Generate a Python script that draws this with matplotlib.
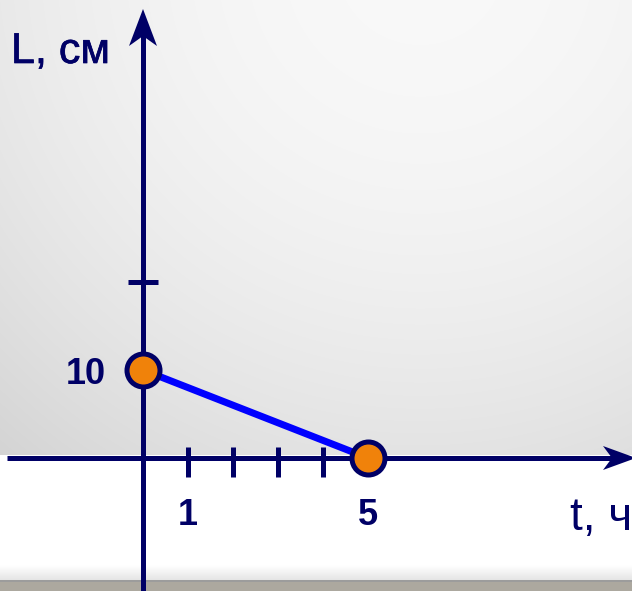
import matplotlib
matplotlib.use("Agg")
import matplotlib.pyplot as plt
import matplotlib.patheffects as pe
from matplotlib.patches import Polygon, Rectangle
import numpy as np

# данные графика
t_points = [0, 5]          # t, ч
L_points = [10, 0]         # L, см
t_minor_ticks = [1, 2, 3, 4]
L_minor_ticks = [20]
t_labels = [1, 5]
L_labels = [10]

NAVY = "#000066"
BLUE = "#0000ff"
ORANGE = "#f0820a"

W, H, DPI = 632, 591, 100
# расположение начала координат и масштаб в пикселях
X0_PX, Y0_PX = 143, 458
PX_PER_T, PX_PER_L = 45.0, 8.8


def px_to_data(px, py):
    return (px - X0_PX) / PX_PER_T, (Y0_PX - py) / PX_PER_L


fig = plt.figure(figsize=(W / DPI, H / DPI), dpi=DPI)
ax = fig.add_axes([0, 0, 1, 1])
x_min, y_max = px_to_data(0, 0)
x_max, y_min = px_to_data(W, H)
ax.set_xlim(x_min, x_max)
ax.set_ylim(y_min, y_max)
ax.axis("off")

# фон: серый градиент над осью t
gy, gx = np.mgrid[0:455, 0:W]
d2 = (gx - 420.0) ** 2 + (gy + 40.0) ** 2
grey = np.clip(0.975 - 3.44e-7 * d2, 0, 1)
top_frac = (H - 455) / H
ax.imshow(np.dstack([grey, grey, grey]), extent=(0, 1, top_frac, 1),
          transform=ax.transAxes, aspect="auto", zorder=0, interpolation="bilinear")
# полоса внизу
fade = np.linspace(1.0, 0.9, 16)[:, None] * np.ones((1, 2))
ax.imshow(np.dstack([fade, fade, fade]), extent=(0, 1, (H - 580) / H, (H - 565) / H),
          transform=ax.transAxes, aspect="auto", zorder=0)
ax.add_patch(Rectangle((0, 0), 1, (H - 580) / H, transform=ax.transAxes,
                       facecolor="#aca89f", edgecolor="none", zorder=0))
ax.add_patch(Rectangle((0, (H - 582) / H), 1, 2 / H, transform=ax.transAxes,
                       facecolor="#9c9c9c", edgecolor="none", zorder=0))

# оси
ax_lw = 5 * 72 / DPI
xa0, _ = px_to_data(7, 0)
xa1, _ = px_to_data(622, 0)
_, ya1 = px_to_data(0, 20)
ax.plot([xa0, xa1], [0, 0], color=NAVY, lw=ax_lw, solid_capstyle="butt", zorder=2)
ax.plot([0, 0], [y_min, ya1], color=NAVY, lw=ax_lw, solid_capstyle="butt", zorder=2)

# стрелки осей (размеры в пикселях)
def arrow_head(tip_px, direction, L=37, N=27, Wd=14):
    tx, ty = tip_px
    if direction == "up":
        pts = [(tx, ty), (tx + Wd, ty + L), (tx, ty + N), (tx - Wd, ty + L)]
    else:
        pts = [(tx, ty), (tx - L, ty + Wd), (tx - N, ty), (tx - L, ty - Wd)]
    return Polygon([px_to_data(*p) for p in pts], closed=True,
                   facecolor=NAVY, edgecolor="none", zorder=3)


ax.add_patch(arrow_head((143, 9), "up"))
ax.add_patch(arrow_head((636, 458), "right", L=33, N=24, Wd=12))

# деления
_, tk_top = px_to_data(0, 447)
_, tk_bot = px_to_data(0, 477)
for t in t_minor_ticks:
    ax.plot([t, t], [tk_bot, tk_top], color=NAVY, lw=ax_lw, solid_capstyle="butt", zorder=2)
tl, _ = px_to_data(128, 0)
tr, _ = px_to_data(158, 0)
for L in L_minor_ticks:
    ax.plot([tl, tr], [L, L], color=NAVY, lw=ax_lw, solid_capstyle="butt", zorder=2)

# график
ax.plot(t_points, L_points, color=BLUE, lw=7 * 72 / DPI, solid_capstyle="butt", zorder=4)
ax.plot(t_points, L_points, linestyle="none", marker="o", markersize=33 * 72 / DPI,
        markerfacecolor=ORANGE, markeredgecolor=NAVY, markeredgewidth=5 * 72 / DPI, zorder=5)

# подписи
font = ["Liberation Sans", "DejaVu Sans"]
_, lab_y = px_to_data(0, 525)
for t in t_labels:
    ax.text(t, lab_y, str(t), color=NAVY, fontsize=26, fontweight="bold",
            ha="center", va="baseline", family=font, zorder=6)
lx, _ = px_to_data(106, 0)
for L in L_labels:
    _, by = px_to_data(0, Y0_PX - L * PX_PER_L + 14)
    ax.text(lx, by, str(L), color=NAVY, fontsize=26, fontweight="bold",
            ha="right", va="baseline", family=font, zorder=6)

x_txt, y_txt = px_to_data(11, 63)
ax.text(x_txt, y_txt, "L, см", color=NAVY, fontsize=31, ha="left", va="baseline",
        family=font, zorder=6,
        path_effects=[pe.withStroke(linewidth=0.5, foreground=NAVY)])
x_txt, y_txt = px_to_data(570, 530)
ax.text(x_txt, y_txt, "t, ч", color=NAVY, fontsize=33, ha="left", va="baseline",
        family=font, zorder=6)

fig.savefig("out.png", dpi=DPI)
